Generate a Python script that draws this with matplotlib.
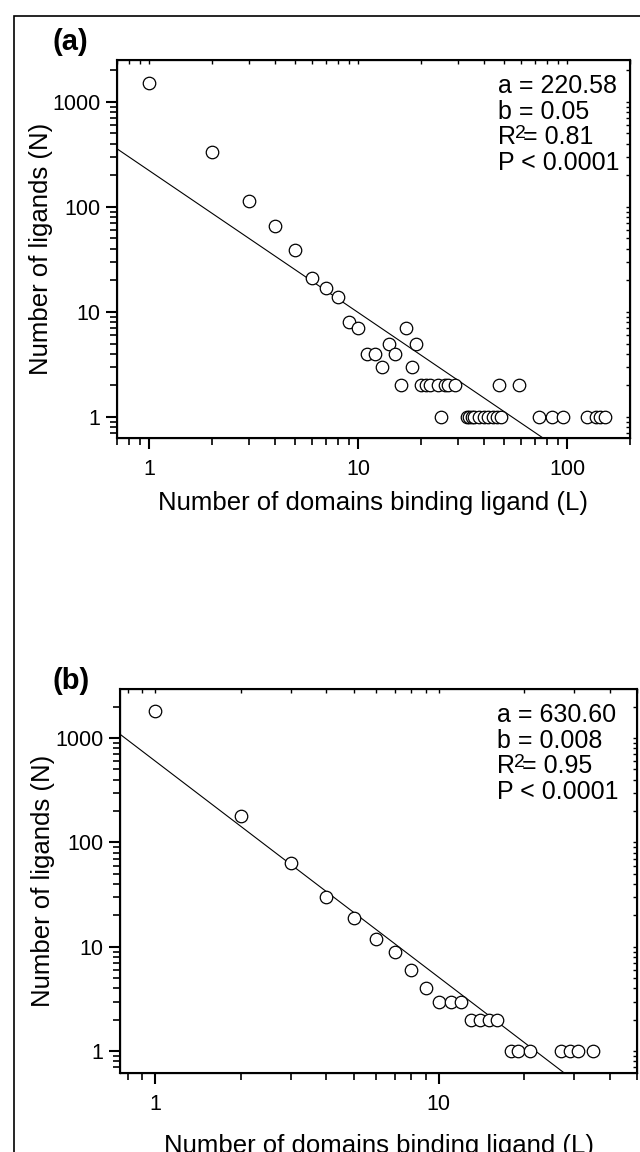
import numpy as np
import matplotlib.pyplot as plt
from matplotlib.ticker import FixedLocator, LogLocator, NullFormatter, FuncFormatter
from matplotlib.patches import Rectangle

plt.rcParams['font.family'] = ['Liberation Sans', 'DejaVu Sans']

# panel (a): number of domains binding a ligand vs number of ligands
L_a = [1, 2, 3, 4, 5, 6, 7, 8, 9, 10, 11, 12, 13, 14, 15, 16, 17, 18, 19,
       20, 21, 22, 24, 26, 27, 29, 47, 59,
       25, 33, 34, 35, 36, 38, 40, 42, 44, 46, 48, 73, 85, 96, 124, 137, 143, 152]
N_a = [1500, 330, 113, 65, 39, 21, 17, 14, 8, 7, 4, 4, 3, 5, 4, 2, 7, 3, 5,
       2, 2, 2, 2, 2, 2, 2, 2, 2,
       1, 1, 1, 1, 1, 1, 1, 1, 1, 1, 1, 1, 1, 1, 1, 1, 1, 1]

# panel (b)
L_b = [1, 2, 3, 4, 5, 6, 7, 8, 9, 10, 11, 12, 13, 14, 15, 16,
       18, 19, 21, 27, 29, 31, 35]
N_b = [1800, 180, 63, 30, 19, 12, 9, 6, 4, 3, 3, 3, 2, 2, 2, 2,
       1, 1, 1, 1, 1, 1, 1]

# power-law fit lines  N = a * L^-k
fit_a = (220.58, 1.35)
fit_b = (600.0, 2.07)

stats_a = ["a = 220.58", "b = 0.05", "R = 0.81", "P < 0.0001"]
stats_b = ["a = 630.60", "b = 0.008", "R = 0.95", "P < 0.0001"]

W, H = 640, 1152
fig = plt.figure(figsize=(W / 100, H / 100), dpi=100)


def panel(rect, L, N, fit, stats, xlim, ylim, xmajor, tag, tag_y, txt_x, xlab_y):
    l, t, r, b = rect
    ax = fig.add_axes([l / W, 1 - b / H, (r - l) / W, (b - t) / H])
    ax.set_xscale('log')
    ax.set_yscale('log')
    ax.set_xlim(xlim)
    ax.set_ylim(ylim)

    xs = np.logspace(np.log10(xlim[0]), np.log10(xlim[1]), 100)
    ax.plot(xs, fit[0] * xs ** (-fit[1]), color='black', lw=0.8)
    ax.plot(L, N, 'o', mfc='white', mec='black', ms=9, mew=0.9, clip_on=False)

    ax.xaxis.set_major_locator(FixedLocator(xmajor))
    ax.yaxis.set_major_locator(FixedLocator([1, 10, 100, 1000]))
    ax.xaxis.set_minor_locator(LogLocator(base=10, subs=np.arange(2, 10), numticks=20))
    ax.yaxis.set_minor_locator(LogLocator(base=10, subs=np.arange(2, 10), numticks=20))
    fmt = FuncFormatter(lambda v, p: f"{v:g}")
    ax.xaxis.set_major_formatter(fmt)
    ax.yaxis.set_major_formatter(fmt)
    ax.xaxis.set_minor_formatter(NullFormatter())
    ax.yaxis.set_minor_formatter(NullFormatter())
    ax.tick_params(which='major', direction='out', length=8, width=1.5, labelsize=15.5)
    ax.tick_params(which='minor', direction='out', length=5, width=1.2)
    ax.tick_params(axis='x', pad=7)
    ax.tick_params(axis='y', pad=4)
    for s in ax.spines.values():
        s.set_linewidth(1.5)

    # inward ticks on top and right
    top = ax.twiny()
    top.set_xscale('log')
    top.set_xlim(xlim)
    top.xaxis.set_major_locator(FixedLocator(xmajor))
    top.xaxis.set_minor_locator(LogLocator(base=10, subs=np.arange(2, 10), numticks=20))
    top.tick_params(which='both', direction='in', length=3, width=1, labeltop=False)
    right = ax.twinx()
    right.set_yscale('log')
    right.set_ylim(ylim)
    right.yaxis.set_major_locator(FixedLocator([1, 10, 100, 1000]))
    right.yaxis.set_minor_locator(LogLocator(base=10, subs=np.arange(2, 10), numticks=20))
    right.tick_params(which='both', direction='in', length=3, width=1, labelright=False)

    ax.set_xlabel('Number of domains binding ligand (L)', fontsize=18.5)
    ax.set_ylabel('Number of ligands (N)', fontsize=18.5)
    ax.xaxis.set_label_coords(0.5, xlab_y)
    ax.yaxis.set_label_coords(-0.125, 0.5)

    for i, s in enumerate(stats):
        dy = -26 * 0.72 - i * 18.4
        ax.annotate(s, xy=(txt_x, 1), xycoords='axes fraction',
                    xytext=(0, dy), textcoords='offset points',
                    ha='left', va='center', fontsize=18)
        if s.startswith('R'):
            # squared sign drawn over the equals sign, as in the original
            ax.annotate('2', xy=(txt_x, 1), xycoords='axes fraction',
                        xytext=(12.3, dy + 2.5), textcoords='offset points',
                        ha='left', va='center', fontsize=14)

    fig.text(52 / W, 1 - tag_y / H, tag, fontsize=21, fontweight='bold',
             ha='left', va='bottom')
    return ax


panel((117, 60, 630, 438), L_a, N_a, fit_a, stats_a, (0.7, 200), (0.63, 2500),
      [1, 10, 100], '(a)', 56, 0.743, -0.14)
panel((120, 689, 637, 1073), L_b, N_b, fit_b, stats_b, (0.75, 50), (0.62, 2950),
      [1, 10], '(b)', 695, 0.729, -0.158)

# outer frame (right and bottom edges lie outside the picture)
fig.add_artist(Rectangle((14 / W, -0.01), 1.0, 1.01 - 16 / H,
                         transform=fig.transFigure, fill=False, lw=1.2, color='black'))

fig.savefig('out.png', dpi=100)
